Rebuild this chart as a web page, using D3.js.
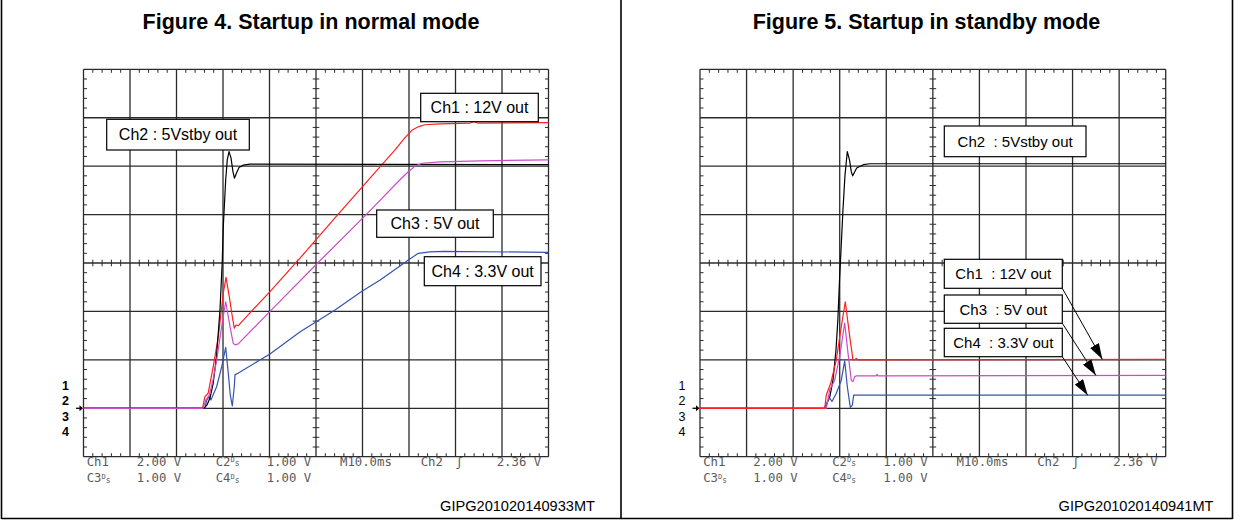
<!DOCTYPE html>
<html><head><meta charset="utf-8">
<script src="https://cdn.jsdelivr.net/npm/d3@7"></script>
<style>body{margin:0;background:#fff}svg{display:block}</style>
</head><body>
<svg id="c" width="1234" height="520"></svg>
<script>
// ---------- data ----------
const titles = ["Figure 4. Startup in normal mode", "Figure 5. Startup in standby mode"];
const figureCodes = ["GIPG201020140933MT", "GIPG201020140941MT"];
const channelMarkers = ["1", "2", "3", "4"];
const settingsRow1 = ["Ch1", "2.00 V", "C2", "1.00 V"];
const settingsRow2 = ["C3", "1.00 V", "C4", "1.00 V"];
const timebase = ["M10.0ms", "Ch2", "2.36 V"];
const voltsPerDiv = { ch1: 2, ch2: 1, ch3: 1, ch4: 1 };
const timeDomainMs = [0, 100];   // 10 ms/div, 10 divisions
const divDomain = [0, 8];        // 8 vertical divisions
const groundDiv = 1;             // ground reference level (division)

const fig4Labels = ["Ch2 : 5Vstby out", "Ch1 : 12V out", "Ch3 : 5V out", "Ch4 : 3.3V out"];
const fig5Labels = ["Ch2  : 5Vstby out", "Ch1  : 12V out", "Ch3  : 5V out", "Ch4  : 3.3V out"];

// [time ms, volts]
const fig4Ch2 = [[0,0],[25.9,0],[26.56,0.07],[27.2,0.21],[27.9,0.52],[28.6,1.07],[29.35,2.03],[29.85,3.06],[30.06,3.75],[30.58,4.72],[30.92,5.13],[31.29,5.30],[31.72,5.17],[32.15,4.88],[32.47,4.75],[32.9,4.86],[33.44,4.97],[34.3,5.02],[35.8,5.04],[100,5.03]];
const fig4Ch1 = [[0,0],[25.6,0],[26.1,0.48],[26.8,0.62],[27.9,1.72],[29.0,2.96],[30.06,4.75],[30.65,5.41],[31.35,4.61],[32.0,3.79],[32.43,3.31],[32.8,3.44],[33.29,3.41],[35.8,3.94],[40.1,4.82],[46.6,6.21],[53.7,7.78],[63.8,9.98],[67.0,10.67],[69.1,11.17],[70.6,11.48],[71.9,11.62],[73.4,11.71],[76.7,11.75],[83.1,11.78],[84.0,11.84],[84.8,11.78],[100,11.80]];
const fig4Ch3 = [[0,0],[25.7,0],[26.3,0.17],[27.05,0.27],[27.85,0.58],[28.65,1.00],[29.72,1.69],[30.58,2.20],[31.5,1.69],[32.2,1.34],[32.58,1.31],[33.29,1.33],[40.1,2.00],[50.15,2.98],[60.9,4.01],[68.06,4.72],[69.8,4.88],[71.3,5.00],[72.8,5.06],[76.7,5.09],[85.3,5.11],[100,5.13]];
const fig4Ch4 = [[0,0],[26.1,0],[26.5,0.17],[27.05,0.24],[27.4,0.17],[28.65,0.45],[29.72,0.86],[30.58,1.26],[31.14,0.72],[31.57,0.27],[32.0,0.05],[32.43,0.45],[32.58,0.69],[32.95,0.71],[40.1,1.12],[46.6,1.58],[54.1,2.03],[59.8,2.41],[63.8,2.65],[68.06,2.94],[69.85,3.06],[72.0,3.20],[74.5,3.23],[77.4,3.24],[100,3.22]];

const fig5Ch2 = [[0,0],[26.6,0],[27.06,0.05],[27.9,0.25],[28.56,0.58],[29.2,1.20],[29.6,1.82],[29.96,2.65],[30.28,3.27],[30.7,4.10],[31.14,4.82],[31.63,5.30],[32.1,5.13],[32.5,4.88],[32.8,4.80],[33.2,4.88],[33.65,4.96],[35.07,5.03],[36.5,5.05],[100,5.05]];
const fig5Ch1 = [[0,0],[26.78,0],[27.12,0.55],[28.07,1.03],[29.27,2.00],[30.34,3.37],[31.2,4.40],[32.15,2.96],[32.85,2.00],[33.2,2.00],[33.56,2.06],[33.9,2.00],[100,2.02]];
const fig5Ch3 = [[0,0],[27.12,0],[27.85,0.38],[28.92,0.58],[30.0,1.07],[31.07,1.76],[31.78,1.14],[32.49,0.58],[32.85,0.55],[33.22,0.65],[33.56,0.67],[37.8,0.67],[38.0,0.70],[38.2,0.67],[100,0.68]];
const fig5Ch4 = [[0,0],[26.78,0],[27.49,0.17],[27.85,0.21],[28.34,0.14],[29.27,0.31],[30.34,0.58],[31.07,0.98],[31.63,0.45],[32.27,0.02],[32.7,0.06],[33.0,0.27],[33.22,0.27],[100,0.27]];

// arrow targets in Figure 5 (time ms on the corresponding trace)
const fig5ArrowTimes = { ch1: 86.4, ch3: 85.0, ch4: 83.25 };

// ---------- styling / layout ----------
const colors = { ch1: "#ff1f1f", ch2: "#000000", ch3: "#c84ec8", ch4: "#3552b4" };
const svg = d3.select("#c");
const SANS = "Arial, 'Liberation Sans', sans-serif";
const MONO = "'DejaVu Sans Mono', monospace";

svg.append("defs").append("marker")
  .attr("id", "ah").attr("viewBox", "0 0 16 10").attr("refX", 16).attr("refY", 5)
  .attr("markerWidth", 16).attr("markerHeight", 10).attr("markerUnits", "userSpaceOnUse")
  .attr("orient", "auto")
  .append("path").attr("d", "M0,0 L16,5 L0,10 Z").attr("fill", "#000");

// outer frame
const frame = svg.append("g").attr("stroke", "#000").attr("stroke-width", 1.6);
frame.append("line").attr("x1", 1.5).attr("x2", 1.5).attr("y1", 0).attr("y2", 519);
frame.append("line").attr("x1", 621).attr("x2", 621).attr("y1", 0).attr("y2", 519);
frame.append("line").attr("x1", 1232.5).attr("x2", 1232.5).attr("y1", 0).attr("y2", 519);
frame.append("line").attr("x1", 1.5).attr("x2", 1232.5).attr("y1", 518.5).attr("y2", 518.5);

function drawPanel(p) {
  const x = d3.scaleLinear().domain(timeDomainMs).range([p.x0, p.x1]);
  const y = d3.scaleLinear().domain(divDomain).range([456.7, 69.3]);
  const g = svg.append("g");

  g.append("text").attr("x", p.titleX).attr("y", 29).attr("text-anchor", "middle")
    .attr("font-family", SANS).attr("font-weight", "bold").attr("font-size", 21.5)
    .text(p.title);

  g.append("rect").attr("x", x(0)).attr("y", y(8)).attr("width", x(100) - x(0)).attr("height", y(0) - y(8))
    .attr("fill", "#fff");

  const grid = g.append("g").attr("stroke", "#2b2b2b").attr("stroke-width", 1.3);
  grid.selectAll(".v").data(d3.range(0, 101, 10)).join("line")
    .attr("x1", d => x(d)).attr("x2", d => x(d)).attr("y1", y(0)).attr("y2", y(8));
  grid.selectAll(".h").data(d3.range(0, 9, 1)).join("line")
    .attr("y1", d => y(d)).attr("y2", d => y(d)).attr("x1", x(0)).attr("x2", x(100));

  const ticks = g.append("g").attr("stroke", "#2b2b2b").attr("stroke-width", 1);
  const mx = d3.range(0, 100.001, 2).filter(d => Math.round(d) % 10 !== 0);
  const my = d3.range(0, 8.0001, 0.2).filter(d => Math.abs(d - Math.round(d)) > 0.01);
  ticks.selectAll(".t1").data(mx).join("line").attr("x1", d => x(d)).attr("x2", d => x(d)).attr("y1", y(8)).attr("y2", y(8) + 3.5);
  ticks.selectAll(".t2").data(mx).join("line").attr("x1", d => x(d)).attr("x2", d => x(d)).attr("y1", y(0)).attr("y2", y(0) - 3.5);
  ticks.selectAll(".t3").data(mx).join("line").attr("x1", d => x(d)).attr("x2", d => x(d)).attr("y1", y(4) - 3.3).attr("y2", y(4) + 3.3);
  ticks.selectAll(".t4").data(my).join("line").attr("y1", d => y(d)).attr("y2", d => y(d)).attr("x1", x(0)).attr("x2", x(0) + 3.5);
  ticks.selectAll(".t5").data(my).join("line").attr("y1", d => y(d)).attr("y2", d => y(d)).attr("x1", x(100)).attr("x2", x(100) - 3.5);
  ticks.selectAll(".t6").data(my).join("line").attr("y1", d => y(d)).attr("y2", d => y(d)).attr("x1", x(50) - 3.3).attr("x2", x(50) + 3.3);

  const traces = g.append("g").attr("fill", "none").attr("stroke-width", 1.2).attr("stroke-linejoin", "round");
  p.order.forEach(ch => {
    const line = d3.line().x(d => x(d[0])).y(d => y(groundDiv + d[1] / voltsPerDiv[ch]));
    traces.append("path").attr("d", line(p.series[ch])).attr("stroke", colors[ch]);
  });

  // channel markers & ground arrow
  const mk = g.append("g").attr("font-family", SANS).attr("font-size", 12.5)
    .attr("font-weight", p.boldMarkers ? "bold" : "normal").attr("text-anchor", "middle");
  mk.selectAll("text").data(channelMarkers).join("text")
    .attr("x", p.x0 - 18).attr("y", (d, i) => y(groundDiv) - 22.7 + i * 15.3 + 4.5)
    .text(d => d);
  const gy = y(groundDiv);
  g.append("line").attr("x1", p.x0 - 7.5).attr("x2", p.x0 - 3).attr("y1", gy).attr("y2", gy).attr("stroke", "#000").attr("stroke-width", 1.3);
  g.append("path").attr("d", `M${p.x0 - 4},${gy - 3} L${p.x0 - 0.5},${gy} L${p.x0 - 4},${gy + 3} Z`).attr("fill", "#000");

  // scope settings text
  const st = g.append("g").attr("font-family", MONO).attr("font-size", 12.3).attr("fill", "#5a5a5a");
  const cols = [3.2, 53.2, 132.2, 183.2];
  [settingsRow1, settingsRow2].forEach((row, r) => {
    row.forEach((s, i) => {
      const t = st.append("text").attr("x", p.x0 + cols[i]).attr("y", 465.8 + r * 16.5).text(s);
      if (/^C[234]$/.test(s)) {
        t.append("tspan").attr("font-size", 7).attr("dy", -3.5).text("D");
        t.append("tspan").attr("font-size", 8).attr("dy", 4).text("s");
      }
    });
  });
  st.append("text").attr("x", p.x0 + 256.5).attr("y", 465.8).text(timebase[0]);
  st.append("text").attr("x", p.x0 + 337.2).attr("y", 465.8).text(timebase[1]);
  st.append("text").attr("x", p.x0 + 372).attr("y", 465.8).text("ʃ");
  st.append("text").attr("x", p.x0 + 413.2).attr("y", 465.8).text(timebase[2]);

  g.append("text").attr("x", p.codeX).attr("y", 510.7).attr("text-anchor", "end")
    .attr("font-family", SANS).attr("font-size", 14.6).text(p.code);

  // label boxes
  p.boxes.forEach(b => {
    g.append("rect").attr("x", b.x).attr("y", b.y).attr("width", b.w).attr("height", b.h)
      .attr("fill", "#fff").attr("stroke", "#000").attr("stroke-width", 1.2);
    g.append("text").attr("x", b.x + b.w / 2).attr("y", b.y + b.h / 2 + 5.6).attr("text-anchor", "middle")
      .attr("font-family", SANS).attr("font-size", p.labelSize).style("white-space", "pre").text(b.text);
  });

  return { x, y };
}

drawPanel({
  title: titles[0], titleX: 311, code: figureCodes[0], codeX: 595,
  x0: 83.5, x1: 548.5, boldMarkers: true, labelSize: 16,
  order: ["ch1", "ch4", "ch2", "ch3"],
  series: { ch1: fig4Ch1, ch2: fig4Ch2, ch3: fig4Ch3, ch4: fig4Ch4 },
  boxes: [
    { text: fig4Labels[0], x: 106.7, y: 119.3, w: 142.6, h: 30.7 },
    { text: fig4Labels[1], x: 420.7, y: 93.3, w: 117.6, h: 28.4 },
    { text: fig4Labels[2], x: 376.7, y: 210, w: 116.6, h: 27.3 },
    { text: fig4Labels[3], x: 424.3, y: 256.7, w: 116.7, h: 29 }
  ]
});

const f5 = drawPanel({
  title: titles[1], titleX: 926.5, code: figureCodes[1], codeX: 1213.5,
  x0: 700, x1: 1165.7, boldMarkers: false, labelSize: 15,
  order: ["ch2", "ch4", "ch3", "ch1"],
  series: { ch1: fig5Ch1, ch2: fig5Ch2, ch3: fig5Ch3, ch4: fig5Ch4 },
  boxes: [
    { text: fig5Labels[0], x: 944.3, y: 126, w: 141.7, h: 30.7 },
    { text: fig5Labels[1], x: 944.3, y: 259.3, w: 118, h: 29 },
    { text: fig5Labels[2], x: 944.3, y: 295, w: 118, h: 28.3 },
    { text: fig5Labels[3], x: 944.3, y: 328.3, w: 118, h: 28.4 }
  ]
});

// Figure 5 arrows from label boxes to traces
const arrowStarts = [{ ch: "ch1", sx: 1062.3, sy: 288.3 }, { ch: "ch3", sx: 1062.3, sy: 323.3 }, { ch: "ch4", sx: 1062.3, sy: 356.7 }];
const seriesFor = { ch1: fig5Ch1, ch3: fig5Ch3, ch4: fig5Ch4 };
arrowStarts.forEach(a => {
  const data = seriesFor[a.ch];
  const t = fig5ArrowTimes[a.ch];
  const v = data[data.length - 1][1];
  svg.append("line").attr("x1", a.sx).attr("y1", a.sy)
    .attr("x2", f5.x(t)).attr("y2", f5.y(groundDiv + v / voltsPerDiv[a.ch]))
    .attr("stroke", "#000").attr("stroke-width", 1).attr("marker-end", "url(#ah)");
});
</script>
</body></html>
